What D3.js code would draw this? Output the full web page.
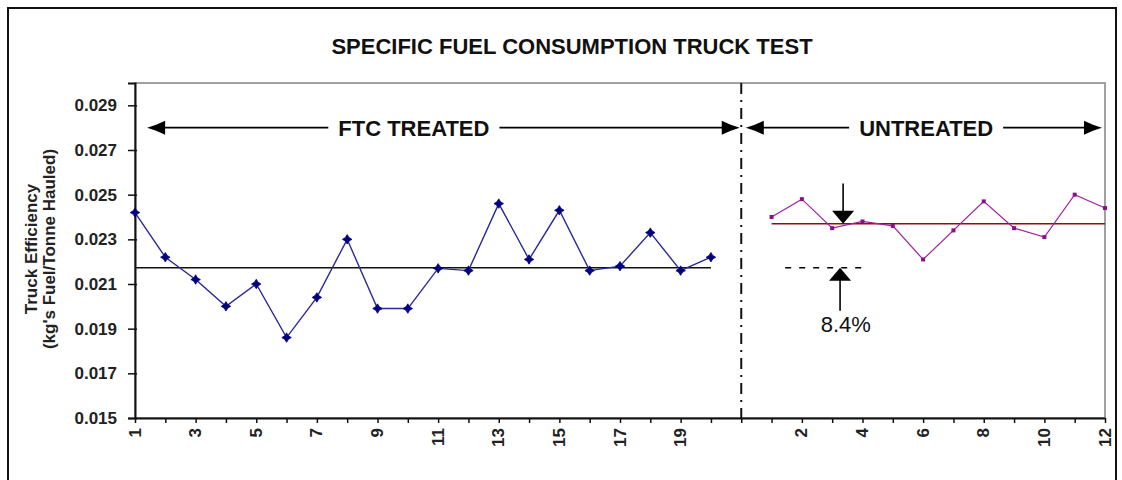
<!DOCTYPE html>
<html>
<head>
<meta charset="utf-8">
<script src="https://cdn.jsdelivr.net/npm/d3@7"></script>
<style>
    body { margin: 0; background: #fff; }
    text { font-family: "Liberation Sans", Arial, sans-serif; }
</style>
</head>
<body>
<div id="chart"></div>
<script>
// values
const treated = [0.0242, 0.0222, 0.0212, 0.0200, 0.0210, 0.0186, 0.0204, 0.0230, 0.0199, 0.0199,
                 0.0217, 0.0216, 0.0246, 0.0221, 0.0243, 0.0216, 0.0218, 0.0233, 0.0216, 0.0222];
const untreated = [0.0240, 0.0248, 0.0235, 0.0238, 0.0236, 0.0221, 0.0234, 0.0247, 0.0235, 0.0231, 0.0250, 0.0244];
const treatedMean = 0.02173;
const untreatedMean = 0.0237;
const yTicks = [0.015, 0.017, 0.019, 0.021, 0.023, 0.025, 0.027, 0.029];
const treatedLabels = [1, 3, 5, 7, 9, 11, 13, 15, 17, 19];
const untreatedLabels = [2, 4, 6, 8, 10, 12];
const dividerPos = 21;   // empty slot between the two runs
const bandLevel = 0.028; // where the "treated / untreated" arrows sit
const pctText = "8.4%";

const dimension = {
    width: 1122,
    height: 480,
    margin: { top: 83, left: 135, bottom: 62, right: 17 }
};
dimension.boundedWidth = dimension.width - dimension.margin.left - dimension.margin.right;
dimension.boundedHeight = dimension.height - dimension.margin.top - dimension.margin.bottom;

const treatedPos = (d, i) => i + 1;
const untreatedPos = (d, i) => dividerPos + i + 1;

const svg = d3.select("#chart").append("svg")
    .attr("width", dimension.width)
    .attr("height", dimension.height);

// outer frame
svg.append("rect")
    .attr("x", 8).attr("y", 8)
    .attr("width", 1108).attr("height", 490)
    .attr("fill", "none").attr("stroke", "#111").attr("stroke-width", 2);

svg.append("text")
    .attr("x", 572).attr("y", 54)
    .attr("text-anchor", "middle")
    .attr("font-size", 22).attr("font-weight", "bold")
    .attr("fill", "#111")
    .text("SPECIFIC FUEL CONSUMPTION TRUCK TEST");

const bounded = svg.append("g")
    .attr("transform", `translate(${dimension.margin.left},${dimension.margin.top})`);

const xScaler = d3.scaleLinear()
    .domain([1, dividerPos + untreated.length])
    .range([0, dimension.boundedWidth]);

const yScaler = d3.scaleLinear()
    .domain([0.015, 0.030])
    .range([dimension.boundedHeight, 0]);

// plot area border (grey top / right)
bounded.append("rect")
    .attr("width", dimension.boundedWidth)
    .attr("height", dimension.boundedHeight)
    .attr("fill", "none").attr("stroke", "#a0a0a0").attr("stroke-width", 2);

// y axis
const yAxis = bounded.append("g")
    .call(d3.axisLeft(yScaler).tickValues(yTicks).tickFormat(d3.format(".3f")).tickSize(7).tickPadding(11));
yAxis.select(".domain").attr("stroke", "#111").attr("stroke-width", 2);
yAxis.selectAll(".tick line").attr("stroke", "#111").attr("stroke-width", 1.5).attr("x2", -7).attr("x1", 2);
yAxis.selectAll("text")
    .attr("font-size", 17).attr("font-weight", "bold").attr("fill", "#222")
    .attr("font-family", "Liberation Sans, Arial, sans-serif");

// x axis : one slot per run, labels every second slot
const xLabel = p => {
    if (p < dividerPos) return treatedLabels.includes(p) ? p : "";
    if (p > dividerPos) return untreatedLabels.includes(p - dividerPos) ? p - dividerPos : "";
    return "";
};
const xAxis = bounded.append("g")
    .attr("transform", `translate(0,${dimension.boundedHeight})`)
    .call(d3.axisBottom(xScaler).tickValues(d3.range(1, dividerPos + untreated.length + 1))
        .tickFormat(xLabel).tickSize(5).tickPadding(0).tickSizeOuter(0));
xAxis.select(".domain").attr("stroke", "#111").attr("stroke-width", 2);
xAxis.selectAll(".tick line").attr("stroke", "#111").attr("stroke-width", 1.5);
xAxis.selectAll("text")
    .attr("font-size", 17).attr("font-weight", "bold").attr("fill", "#222")
    .attr("font-family", "Liberation Sans, Arial, sans-serif")
    .attr("text-anchor", "end")
    .attr("transform", "translate(0,10) rotate(-90)")
    .attr("x", 0).attr("y", 0).attr("dy", "0.3em");

// y axis title
const yTitle = svg.append("g").attr("transform", "translate(0,249)");
[["Truck Efficiency", 37], ["(kg's Fuel/Tonne Hauled)", 55]].forEach(([t, x]) => {
    yTitle.append("text")
        .attr("transform", `translate(${x},0) rotate(-90)`)
        .attr("text-anchor", "middle")
        .attr("font-size", 17).attr("font-weight", "bold").attr("fill", "#222")
        .text(t);
});

// divider between runs
bounded.append("line")
    .attr("x1", xScaler(dividerPos)).attr("x2", xScaler(dividerPos))
    .attr("y1", 0).attr("y2", dimension.boundedHeight)
    .attr("stroke", "#111").attr("stroke-width", 2)
    .attr("stroke-dasharray", "11,6,2,6");

// mean lines
bounded.append("line")
    .attr("x1", xScaler(1)).attr("x2", xScaler(treated.length))
    .attr("y1", yScaler(treatedMean)).attr("y2", yScaler(treatedMean))
    .attr("stroke", "#111").attr("stroke-width", 1.6);
bounded.append("line")
    .attr("x1", xScaler(dividerPos + 1)).attr("x2", xScaler(dividerPos + untreated.length))
    .attr("y1", yScaler(untreatedMean)).attr("y2", yScaler(untreatedMean))
    .attr("stroke", "#8b1010").attr("stroke-width", 1.6);

// small four point star, like the spreadsheet marker
const starMarker = {
    draw(ctx, size) {
        const r = Math.sqrt(size) * 0.75, q = r * 0.38;
        ctx.moveTo(0, -r);
        ctx.lineTo(q, -q); ctx.lineTo(r, 0); ctx.lineTo(q, q);
        ctx.lineTo(0, r); ctx.lineTo(-q, q); ctx.lineTo(-r, 0); ctx.lineTo(-q, -q);
        ctx.closePath();
    }
};

// treated series
const treatedLine = d3.line().x((d, i) => xScaler(treatedPos(d, i))).y(d => yScaler(d));
bounded.append("path")
    .attr("d", treatedLine(treated))
    .attr("fill", "none").attr("stroke", "#2a2a96").attr("stroke-width", 1.4);
bounded.selectAll(".tm").data(treated).join("path")
    .attr("class", "tm")
    .attr("transform", (d, i) => `translate(${xScaler(treatedPos(d, i))},${yScaler(d)})`)
    .attr("d", d3.symbol(starMarker, 40))
    .attr("fill", "#000080").attr("stroke", "#000080").attr("stroke-width", 0.8);

// untreated series
const untreatedLine = d3.line().x((d, i) => xScaler(untreatedPos(d, i))).y(d => yScaler(d));
bounded.append("path")
    .attr("d", untreatedLine(untreated))
    .attr("fill", "none").attr("stroke", "#a020a0").attr("stroke-width", 1.2);
bounded.selectAll(".um").data(untreated).join("rect")
    .attr("class", "um")
    .attr("x", (d, i) => xScaler(untreatedPos(d, i)) - 2)
    .attr("y", d => yScaler(d) - 2)
    .attr("width", 4).attr("height", 4)
    .attr("fill", "#8a108a");

// range arrows along the top
function stealthHead(g, tipX, y, dir) {
    const p = d3.path();
    p.moveTo(tipX, y);
    p.lineTo(tipX - dir * 9, y - 3);
    p.lineTo(tipX - dir * 18, y - 7);
    p.lineTo(tipX - dir * 18, y + 7);
    p.lineTo(tipX - dir * 9, y + 3);
    p.closePath();
    g.append("path").attr("d", p.toString()).attr("fill", "#000");
}

function rangeArrow(fromPos, toPos, labelPos, label) {
    const g = bounded.append("g");
    const y = yScaler(bandLevel);
    const x0 = xScaler(fromPos), x1 = xScaler(toPos);
    const t = g.append("text")
        .attr("x", xScaler(labelPos)).attr("y", y + 8)
        .attr("text-anchor", "middle")
        .attr("font-size", 22).attr("font-weight", "bold").attr("fill", "#111")
        .text(label);
    const w = t.node().getComputedTextLength();
    const gap = 10;
    g.append("line").attr("x1", x0 + 15).attr("x2", xScaler(labelPos) - w / 2 - gap)
        .attr("y1", y).attr("y2", y).attr("stroke", "#000").attr("stroke-width", 1.6);
    g.append("line").attr("x1", xScaler(labelPos) + w / 2 + gap).attr("x2", x1 - 15)
        .attr("y1", y).attr("y2", y).attr("stroke", "#000").attr("stroke-width", 1.6);
    stealthHead(g, x0, y, -1);
    stealthHead(g, x1, y, 1);
}
rangeArrow(1.4, dividerPos - 0.05, 10.2, "FTC TREATED");
rangeArrow(dividerPos + 0.15, dividerPos + untreated.length - 0.1, 27.1, "UNTREATED");

// difference annotation
function vArrow(xPos, fromVal, toVal) {
    const x = xScaler(xPos);
    const y0 = yScaler(fromVal), y1 = yScaler(toVal);
    const dir = y1 > y0 ? 1 : -1;
    bounded.append("line")
        .attr("x1", x).attr("x2", x).attr("y1", y0).attr("y2", y1 - dir * 12)
        .attr("stroke", "#000").attr("stroke-width", 1.6);
    bounded.append("path")
        .attr("d", `M${x},${y1}L${x - 11},${y1 - dir * 13}L${x + 11},${y1 - dir * 13}Z`)
        .attr("fill", "#000");
}
vArrow(24.36, 0.0255, untreatedMean);
vArrow(24.26, 0.0198, treatedMean);

bounded.append("line")
    .attr("x1", xScaler(22.45)).attr("x2", xScaler(25.0))
    .attr("y1", yScaler(treatedMean)).attr("y2", yScaler(treatedMean))
    .attr("stroke", "#000").attr("stroke-width", 1.4)
    .attr("stroke-dasharray", "6,8");

bounded.append("text")
    .attr("x", xScaler(24.45)).attr("y", yScaler(0.01885))
    .attr("text-anchor", "middle")
    .attr("font-size", 22).attr("fill", "#111")
    .text(pctText);
</script>
</body>
</html>
